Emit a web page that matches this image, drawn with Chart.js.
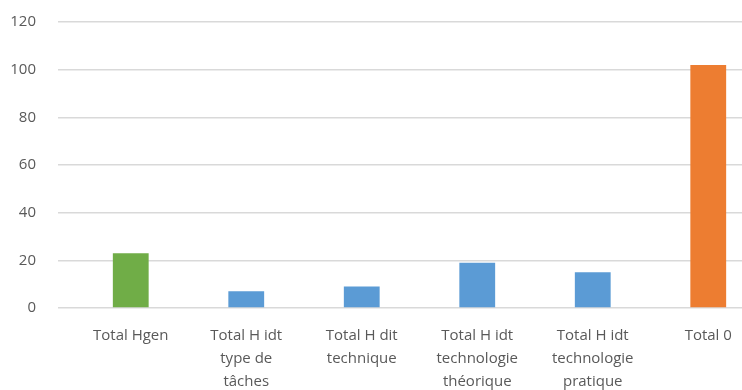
<!DOCTYPE html>
<html>
<head>
<meta charset="utf-8">
<script src="https://cdn.jsdelivr.net/npm/chart.js@4/dist/chart.umd.min.js"></script>
<style>
    html, body { margin: 0; padding: 0; background: #fff; overflow: hidden; }
    #hoursChart { display: block; }
</style>
</head>
<body>
<canvas id="hoursChart" width="766" height="390"></canvas>
<script>
// ---- DATA ----
const categories = [
    "Total Hgen",
    ["Total H idt", "type de", "tâches"],
    ["Total H dit", "technique"],
    ["Total H idt", "technologie", "théorique"],
    ["Total H idt", "technologie", "pratique"],
    "Total 0"
];
const hours = [23, 7, 9, 19, 15, 102];
const barColors = ["#70ad47", "#5b9bd5", "#5b9bd5", "#5b9bd5", "#5b9bd5", "#ed7d31"];
const yTicks = { min: 0, max: 120, step: 20 };

const textColor = "#595959";
const gridColor = "#d9d9d9";
const font = { family: "'Open Sans', Lato, sans-serif", size: 15 };

const ctx = document.getElementById("hoursChart").getContext("2d");

new Chart(ctx, {
    type: "bar",
    data: {
        labels: categories,
        datasets: [{
            data: hours,
            backgroundColor: barColors,
            borderWidth: 0,
            categoryPercentage: 1,
            barPercentage: 0.31
        }]
    },
    options: {
        responsive: false,
        animation: false,
        layout: { padding: 0 },
        plugins: {
            legend: { display: false },
            tooltip: { enabled: false }
        },
        scales: {
            x: {
                grid: { display: false },
                border: { display: false },
                ticks: {
                    color: textColor,
                    font: { ...font, lineHeight: 1.55 },
                    padding: 8,
                    maxRotation: 0,
                    autoSkip: false
                },
                afterFit: scale => { scale.height = 82; }
            },
            y: {
                min: yTicks.min,
                max: yTicks.max,
                border: { display: false },
                grid: {
                    color: gridColor,
                    lineWidth: 1.5,
                    drawTicks: true,
                    tickLength: 15,
                    tickColor: gridColor
                },
                ticks: {
                    stepSize: yTicks.step,
                    color: textColor,
                    font: font,
                    padding: 22
                },
                afterFit: scale => {
                    scale.width = 73;
                    scale.paddingTop = 22;
                }
            }
        }
    }
});
</script>
</body>
</html>
